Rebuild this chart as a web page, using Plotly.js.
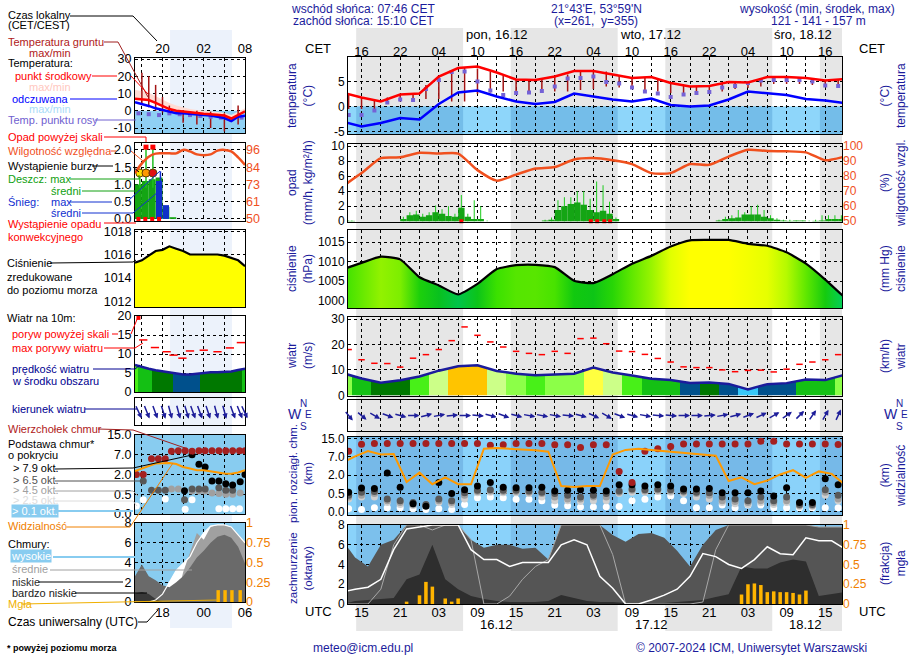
<!DOCTYPE html>
<html>
<head>
<meta charset="utf-8">
<script src="https://cdn.plot.ly/plotly-3.0.1.min.js"></script>
<style>
html,body{margin:0;padding:0;background:#fff;}
#chart{width:910px;height:660px;}
</style>
</head>
<body>
<div id="chart"></div>
<script>
// ====================== DATA (hours counted from 15.12 00 UTC) ======================
const hours3 = [12,15,18,21,24,27,30,33,36,39,42,45,48,51,54,57,60,63,66,69,72,75,78,81,84,87,90];
const hoursOdd = [13,15,17,19,21,23,25,27,29,31,33,35,37,39,41,43,45,47,49,51,53,55,57,59,61,63,65,67,69,71,73,75,77,79,81,83,85,87,89];
const hoursEven = [12,14,16,18,20,22,24,26,28,30,32,34,36,38,40,42,44,46,48,50,52,54,56,58,60,62,64,66,68,70,72,74,76,78,80,82,84,86,88,90];
const hours1 = [12,13,14,15,16,17,18,19,20,21,22,23,24,25,26,27,28,29,30,31,32,33,34,35,36,37,38,39,40,41,42,43,44,45,46,47,48,49,50,51,52,53,54,55,56,57,58,59,60,61,62,63,64,65,66,67,68,69,70,71,72,73,74,75,76,77,78,79,80,81,82,83,84,85,86,87,88,89];

// nights (sunset 15:10 CET, sunrise 07:46 CET)
const nights = [[14.17,30.77],[38.17,54.77],[62.17,78.77],[86.17,89.6]];
const gridHours = [15,18,21,24,27,30,33,36,39,42,45,48,51,54,57,60,63,66,69,72,75,78,81,84,87];
const cetLabels = ['16','','22','','04','','10','','16','','22','','04','','10','','16','','22','','04','','10','','16'];
const utcLabels = ['15','','21','','03','','09','','15','','21','','03','','09','','15','','21','','03','','09','','15'];
const dayLabelsTop = ['pon, 16.12','wto, 17.12','śro, 18.12'];
const dayLabelHours = [30.9,54.8,78.8];
const dateLabels = ['16.12','17.12','18.12'];
const dateNoons = [36,60,84];

// temperature (°C)
const tempMid  = [2.8,1.8,1.0,2.4,2.6,6.0,7.7,8.0,6.8,5.4,5.3,6.0,7.1,7.1,6.4,5.7,5.9,4.7,4.0,4.1,4.9,4.8,5.9,5.9,5.7,5.2,5.5];
const tempFelt = [-3.0,-4.0,-3.3,-2.3,-2.6,0.5,2.8,3.2,2.0,1.0,0.5,0.9,2.6,2.0,1.4,1.0,1.6,0.3,0.0,0.2,1.4,3.0,2.6,2.3,1.5,1.2,0.7];
const dewPoint = [-1.7,-1.7,-0.8,0.8,1.4,1.3,3.5,5.3,6.9,7.0, 5.0,3.2,2.3,2.7,2.8,3.1,4.0,5.6,5.7,6.0, 4.9,4.6,3.8,3.0,2.6,1.9,2.4,2.7,2.9,3.8, 4.1,4.7,5.2,5.3,5.3,5.3,5.0,4.2,4.1];
const groundMax = [2.5,1.8,1.2,1.8,2.3,2.5,4.3,6.0,7.3,7.8, 7.6,7.0,6.2,5.5,5.3,5.3,5.9,6.4,7.2,7.2, 7.0,6.2,5.8,5.8,5.5,4.7,4.2,4.0,4.1,4.5, 4.9,4.8,5.5,5.9,5.9,5.8,5.5,5.2,5.4];
const groundMin = [-0.5,-0.5,-1.0,0.5,1.0,1.3,1.5,1.5,1.0,1.0, 2.5,2.8,3.0,2.5,2.5,2.7,3.0,3.0,3.3,3.5, 4.0,3.8,3.5,3.3,3.0,2.7,2.5,2.5,2.6,3.0, 3.5,3.7,4.0,4.5,4.5,4.5,4.3,4.0,4.0];

// precipitation (mm/h) hourly, relative humidity (%)
const rainMean = [0.1,0.05,0,0,0,0,0,0,0,0.3, 0.8,0.9,0.6,0.8,1.2,1.0,0.7,0.6,1.8,0.6, 0.3,0.3,0,0,0,0,0,0,0,0, 0,0.1,0.2,1.5,2.0,2.3,2.5,2.2,1.5,1.2, 1.4,1.0,0.3,0,0,0,0,0,0,0, 0,0,0,0,0,0,0,0,0.1,0.3, 0.4,0.5,0.9,0.9,0.9,0.6,0.4,0.2,0.1,0.05, 0.1,0.1,0,0.05,0.1,0.3,0.3,0.3];
const rainMax  = [0.2,0.1,0,0,0,0,0,0,0,0.6, 1.2,1.4,1.0,1.2,2.1,1.6,2.0,1.0,3.5,1.0, 2.8,2.0,0.1,0,0,0,0,0,0,0, 0,0.2,0.5,2.8,3.2,3.2,4.0,4.0,3.0,5.3, 4.8,2.6,0.5,0,0,0,0,0,0,0, 0,0,0,0,0,0,0,0,0.2,0.6, 0.8,1.5,1.2,2.0,2.2,1.5,0.8,0.4,0.2,0.2, 0.1,0.1,0.1,0.2,0.8,0.8,0.8,0.8];
const convHours = [30.5,50.6,51.6,52.7,53.6];
const humidity = [73,82,92,92.5,95.5,95,95,84,77,81,85,86,91,92,90.5,88,82,82,88,87.5,93,97.5,96.7,96.5,95.8,90.5,93];

// pressure (hPa)
const pressure = [1008.0,1009.7,1011.3,1010.6,1006.0,1003.9,1001.6,1004.3,1008.1,1009.1,1009.2,1008.6,1005.1,1004.5,1006.8,1009.5,1011.5,1013.9,1015.5,1015.6,1015.6,1014.6,1014.1,1012.4,1009.5,1005.4,1000.8];
const mmHgTicks = [750,754,758,761];

// wind (m/s)
const windSpeed = [8.8,6.6,5.0,5.9,7.4,9.7,11.4,11.8,9.6,8.5,7.9,8.2,8.5,10.9,9.0,7.8,6.5,6.0,4.9,5.0,4.5,2.3,4.4,4.8,6.2,6.0,8.1];
const gust = [18.0,14.0,12.6,12.5,11.1,14.6,16.0,18.0,21.5,26.9, 23.6,21.0,19.0,17.3,16.5,16.0,17.3,16.5,22.3,22.5, 20.3,17.4,17.2,16.1,14.5,13.1,11.2,10.9,10.9,10.0, 9.3,9.8,9.9,9.2,10.3,12.2,13.1,14.0,16.0];
const windDir = [320,310,300,290,285,270,255,260,265,270, 275,285,290,285,280,280,280,275,285,295, 300,290,285,280,275,275,270,270,265,260, 255,250,245,240,235,225,215,210,205];

// clouds: base / top (km), visibility (km)
const cloudTop  = [9.4,12.5,12.8,12.8,12.8,12.8,12.8,12.8,12.8,12.8, 12.8,12.0,12.3,12.8,12.8,12.8,12.3,12.3,11.0,12.3, 12.3,3.0,1.4,9.4,10.5,11.5,12.6,12.6,12.6,12.6, 12.6,12.6,13.8,13.8,12.6,12.6,12.6,12.6,12.4];
const baseBlack = [0.6,0.95,0.9,2.6,1.0,0.22,0.15,1.4,0.5,0.8, 1.1,1.4,1.0,0.97,0.97,1.0,0.7,0.75,0.8,0.75, 0.7,1.2,1.2,1.1,1.2,1.1,0.85,0.85,0.9,0.56, 0.56,0.56,0.7,0.43,0.97,0.25,0.25,1.7,1.2];
const baseDark  = [0.45,0.6,0.65,0.35,0.3,0.25,0.2,0.35,0.3,0.55, 0.75,0.8,0.75,0.75,0.7,0.6,0.5,0.45,0.4,0.45, 0.5,0.7,0.85,0.8,0.85,0.8,0.7,0.6,0.55,0.4, 0.35,0.3,0.4,0.3,0.4,0.2,0.2,0.8,0.45];
const baseGray  = [0.4,0.45,0.5,0.3,0.25,0.2,0.18,0.3,0.25,0.45, 0.65,0.7,0.65,0.65,0.6,0.5,0.4,0.35,0.35,0.4, 0.4,0.6,0.75,0.7,0.75,0.7,0.6,0.5,0.45,0.3, 0.28,0.25,0.3,0.25,0.3,0.17,0.17,0.6,0.35];
const baseLight = [0.35,0.4,0.4,0.25,0.2,0.17,0.15,0.25,0.2,0.35, 0.55,0.6,0.55,0.55,0.5,0.4,0.3,0.3,0.28,0.3, 0.3,0.5,0.6,0.6,0.65,0.6,0.5,0.4,0.35,0.25, 0.22,0.2,0.25,0.2,0.25,0.14,0.14,0.45,0.3];
const baseWhite = [0.08,0.06,0.11,0.11,0.11,0.08,0.06,0.08,0.06,0.2, 0.38,0.4,0.38,0.34,0.34,0.3,0.18,0.16,0.13,0.13, 0.13,0.14,0.3,0.34,0.4,0.43,0.3,0.11,0.11,0.18, 0.11,0.18,0.18,0.11,0.11,0.11,0.11,0.11,0.11];
const visibility = [15,22,45,30,32,3.5,7,3.0,4.5,3.0, 3.0,55,58,55,52,48,42,2.6,2.4,2.6, 2.6,30,50,55,50,45,40,36,33,25, 3.7,4.5,3.0,3.8,5.5,9,4.4,8,6,3.0];
const baseTickText = ['0.0','0.5','2.0','7.0','15.0'];
const visTickText = ['0','1','5','20','100'];

// cloud cover (octants), fog (fraction)
const cloudLow     = [6.5,4.7,3.8,6.0,6.5,8,8,8,8,8, 6.5,5.7,6.0,6.0,5.6,5.7,4.5,8,8,8, 8,7.0,6.3,7.1,7.2,6.7,5.4,3.8,6.0,7.5, 8,8,8,8,8,8,8,7.8,7.8,7.8];
const cloudVeryLow = [0,0.3,0.4,0.5,0.6,2.5,3.0,6.0,2.5,1.5, 0.8,0.5,0.3,0.2,0.2,0.2,0.3,0.9,0.6,0.3, 0.2,0.2,0.1,0.1,0.1,0.1,0.2,0.3,0.4,0.7, 1.0,3.8,3.6,3.6,4.2,4.5,4.3,0.8,1.0,1.2];
const cloudMid     = [0,0,0,1.5,6.0,8,8,7.5,8,8, 6.5,0,0,0.8,2.5,3.8,4.5,8,8,8, 8,5.0,0,0,0,0,0,0,0.2,5.5, 8,8,8,8,8,8,8,7.8,7.8,7.8];
const cloudHigh    = [1.2,1.5,1.7,2.5,5.5,7.6,7.8,8,8,8, 5.5,4.5,4.5,3.8,4.2,4.2,4.2,6.0,6.5,6.0, 2.8,1.6,0,0,0.4,0.9,1.5,2.8,5.1,4.8, 4.0,3.6,4.5,5.8,5.1,5.0,6.7,6.4,6.4,5.6];
const fogHours = [22,24,25,26,28,29,30,74,75,76,77,78,79,80,81,82,83,84];
const fogFrac  = [0.03,0.11,0.28,0.22,0.07,0.03,0.07,0.12,0.25,0.26,0.24,0.15,0.16,0.15,0.15,0.14,0.12,0.17];

// ---------- legend (mini) sample, hours 14..30 UTC ----------
const miniHours = [14,15,16,17,18,19,20,21,22,23,24,25,26,27,28,29,30];
const miniTemp = [7.0,6.8,6.2,4.6,3.0,1.0,0.0,-0.5,-1.0,-1.4,-1.7,-2.0,-2.2,-2.8,-4.5,-2.5,-0.4];
const miniTempMax = [12,11.5,10.5,8.5,6.5,4.5,3.0,2.0,1.0,0.5,0,-0.5,-0.8,-1.2,-2.5,-0.5,1.5];
const miniFelt = [5.0,4.0,2.8,1.4,0.5,-0.8,-1.4,-1.4,-1.6,-2.0,-2.4,-2.8,-3.3,-4.2,-6.0,-3.5,-2.9];
const miniDewH = [14.5,16,17.5,19,20.5,22,23.5,25,26.5,28,29.5];
const miniDew  = [-1.5,-2,-2.5,-1.5,-2,-2.5,-3,-3.5,-4,-5,-4];
const miniGroundH = [15,16,17,18,19,21,23,25,27,29];
const miniGMax = [22,20,15,8,3,0.5,0,-0.5,-1.5,3];
const miniGMin = [4,2,0,-1,-2,-7,-8,-10,-12,-8];
const miniHum = [80.6,87,91.5,93.5,93.7,93.7,93.7,96,95,93,92.5,93,95.5,96,95,91,86];
const miniRainH = [14.5,15.5,16.5,17.5,18.5,19.5];
const miniRain  = [1.0,1.1,1.15,1.2,0.35,0.05];
const miniSnowH = [17.5,18.5];
const miniSnow  = [1.1,0.4];
const miniRainMaxH = [14.7,15.6,16.6];
const miniRainMax  = [1.33,2.08,2.08];
const miniSnowMaxH = [17.7];
const miniSnowMax  = [1.38];
const miniStormColors = ['#ffe000','#ff9900','#e01010'];
const miniPres = [1015.3,1015.5,1015.9,1016.3,1016.4,1016.7,1016.5,1016.3,1016.0,1016.0,1016.0,1016.0,1016.0,1015.9,1015.7,1015.5,1015.0];
const miniWind = [7.1,6.5,6.1,5.7,5.4,5.1,4.8,4.6,4.6,4.8,5.1,5.2,5.2,5.3,5.4,5.8,6.1];
const miniGustH = [15.2,16.9,18.6,19.6,20.9,22,24,26,27.8,29.4];
const miniGust  = [13.7,11.7,10.6,9.7,8.9,10.8,11.0,10.6,11.6,13.0];
const miniDirH = [14.5,15.7,16.9,18.1,19.1,20.3,21.5,22.4,23.4,24.6,25.8,27,28.2,29.2,29.9];
const miniDir  = [335,338,340,342,345,345,343,340,340,342,345,345,340,338,335];
const miniTopH = [14.2,15.2,16.4,17.4,18.4,19.3,20.3,21.3,22.3,23.3,24.2,25.2,26.2,27.2,28.2,29.2,30];
const miniTop  = [2.0,2.0,6.0,6.0,6.0,8.4,8.6,8.6,8.4,8.6,8.6,8.6,8.6,8.6,8.6,8.6,8.6];
const miniBlackH = [21.2,22.3,23.3,24.2,25.2,26.2,27.2,28.2,29.3,30];
const miniBlack  = [0.77,7.0,4.6,3.9,1.5,1.5,1.3,1.2,1.45,2.0];
const miniDarkH = [15.2,16.4,17.4,18.4,21.2,22.3,23.3,24.2,26.2,27.2,28.2];
const miniDark  = [1.5,0.8,0.8,0.8,0.36,0.9,0.9,0.9,1.0,0.8,0.8];
const miniGrayH = [19.3,20.3,22.3,23.3,24.2,25.2,26.2,27.2,28.2,29.3];
const miniGray  = [0.9,0.9,0.75,0.75,0.75,0.6,0.55,0.5,0.5,0.6];
const miniWhiteH = [14.2,15.2,18.4,21.3,22.3,26.2,27.2,28.2,29.2];
const miniWhite  = [0.2,0.36,0.38,0.12,0.36,0.13,0.13,0.13,0.13];
const miniVis = [7.7,9.5,11.5,13.3,13.5,13.7,13.0,10.7,9.5,8.3,8.3,7.5,6.2,5.8,5.5,6.5,8.3];
const miniHigh = [0,0,0,0.2,0.8,2.0,3.2,3.9,4.6,6.0,7.0,7.7,7.8,7.8,7.6,6.8,6.0];
const miniMid  = [0,0,0,0,0,0,0,3.0,5.0,7.0,6.3,7.6,7.8,7.8,7.6,6.8,6.1];
const miniLow  = [2.6,3.8,2.6,2.2,1.7,1.5,2.0,2.6,3.5,4.5,5.2,6.0,6.6,6.8,6.5,5.6,3.9];
const miniVLow = [0.85,1.0,0.8,0.3,0,0,0,0,0,0,0,0,0,0,0,0,0];
const miniFogH = [26.1,27.1,28.1,29.3];
const miniFog  = [0.15,0.15,0.15,0.15];
const miniNight = [19.1,28.1];

// ====================== HELPERS ======================
const W = 910, H = 660;
const fx = p => p / W;
const fy = p => 1 - p / H;
const dom = (t, b) => [1 - b / H, 1 - t / H];
const FONT = '"Liberation Sans", Arial, sans-serif';
const NAVY = '#1b1b9c';
const LF = 11; // legend font size
const KM_STOPS = [0, 0.5, 2, 7, 15];
const VIS_STOPS = [0, 1, 5, 20, 100];
function idxScale(v, stops) {
  if (v <= stops[0]) return 0;
  for (let i = 1; i < stops.length; i++) {
    if (v <= stops[i]) return (i - 1) + (v - stops[i - 1]) / (stops[i] - stops[i - 1]);
  }
  return stops.length - 1;
}
const tKm = v => idxScale(v, KM_STOPS);
const tVis = v => idxScale(v, VIS_STOPS);

function hexToRgb(h) { return [parseInt(h.slice(1,3),16), parseInt(h.slice(3,5),16), parseInt(h.slice(5,7),16)]; }
function mix(a, b, t) { const A = hexToRgb(a), B = hexToRgb(b); return 'rgb(' + A.map((v,i) => Math.round(v + (B[i]-v)*t)).join(',') + ')'; }
const presStops = [[1000,'#00d878'],[1002.5,'#00b830'],[1005,'#10c810'],[1008,'#38e000'],[1011,'#88f000'],[1013,'#c8ff00'],[1014.6,'#f4ff00'],[1015.3,'#ffff00']];
function presColor(p) {
  if (p <= presStops[0][0]) return presStops[0][1];
  for (let i = 1; i < presStops.length; i++) {
    if (p <= presStops[i][0]) { const t = (p - presStops[i-1][0]) / (presStops[i][0] - presStops[i-1][0]); return mix(presStops[i-1][1], presStops[i][1], t); }
  }
  return presStops[presStops.length - 1][1];
}
const windBins = [3,4,5,6,7,8,9,10,11,12];
const windColors = ['#38c8f8','#1478f0','#00508c','#007800','#14c014','#48f018','#8cff48','#ccff88','#ffff40','#ffc400','#ff8c00'];
function windColor(v) { let i = 0; while (i < windBins.length && v >= windBins[i]) i++; return windColors[i]; }
function smoothScale(xs, cols) {
  const x0 = xs[0], x1 = xs[xs.length-1];
  return xs.map((x,i) => [(x - x0)/(x1 - x0), cols[i]]);
}
function stepScale(xs, cols) {
  const x0 = xs[0], x1 = xs[xs.length-1], cs = [];
  for (let i = 0; i < xs.length; i++) {
    const a = i === 0 ? x0 : (xs[i-1] + xs[i]) / 2;
    const b = i === xs.length - 1 ? x1 : (xs[i] + xs[i+1]) / 2;
    cs.push([(a - x0)/(x1 - x0), cols[i]]);
    cs.push([(b - x0)/(x1 - x0), cols[i]]);
  }
  return cs;
}
function segs(xs, lo, hi) { const X = [], Y = []; xs.forEach((h,i) => { X.push(h, h, null); Y.push(lo[i], hi[i], null); }); return {X, Y}; }
function dashes(xs, ys, half) { const X = [], Y = []; xs.forEach((h,i) => { X.push(h - half, h + half, null); Y.push(ys[i], ys[i], null); }); return {X, Y}; }

const MX = [fx(348), fx(842)], MR = [12.9, 89.6];
const SX = [fx(135), fx(245)], SR = [14, 30];
const miniGrid = [15,18,21,24,27,30];
const TF = (c, s) => ({size: s || 12, color: c || '#000', family: FONT});

function xCfg(domain, range, anchor, tickvals, extra) {
  return Object.assign({domain, range, anchor, tickmode:'array', tickvals, ticktext: tickvals.map(() => ''), showticklabels:false, ticks:'',
    showgrid:true, gridcolor:'#000', griddash:'dot', gridwidth:1, zeroline:false, showline:true, mirror:true,
    linecolor:'#000', linewidth:1, fixedrange:true}, extra || {});
}
function yCfg(domain, range, anchor, tickvals, ticktext, extra) {
  return Object.assign({domain, range, anchor, tickmode:'array', tickvals, ticktext: ticktext || tickvals.map(String), ticks:'',
    showgrid:true, gridcolor:'#000', griddash:'dot', gridwidth:1, zeroline:false, showline:true, mirror:true,
    linecolor:'#000', linewidth:1, tickfont:TF(), fixedrange:true}, extra || {});
}
function yRight(overlay, range, anchor, tickvals, ticktext, color) {
  return {overlaying: overlay, side:'right', anchor, range, tickmode:'array', tickvals, ticktext, ticks:'',
    showgrid:false, zeroline:false, showline:false, tickfont:TF(color), fixedrange:true};
}

// ====================== LAYOUT ======================
const layout = {
  width: W, height: H, margin:{l:0, r:0, t:0, b:0}, paper_bgcolor:'#ffffff', plot_bgcolor:'rgba(0,0,0,0)',
  showlegend:false, barmode:'overlay', font:{family:FONT, size:12, color:'#000'}, shapes:[], annotations:[], hovermode:false
};
const tR = [-5.5, 9.9], pR = [-0.1, 10.27], prR = [998.1, 1018.15], wR = [-0.26, 30.8], bR = [-0.18, 4.08], cR = [0, 8];
layout.xaxis  = xCfg(MX, MR, 'y',  gridHours, {side:'top', showticklabels:true, ticktext: cetLabels, ticks:'inside', ticklen:3, tickcolor:'#000', tickfont:{size:13, family:FONT, color:'#000'}, ticklabelstandoff:-5});
layout.yaxis  = yCfg(dom(57,134), tR, 'x', [-5,0,5]);
layout.yaxis2 = yRight('y', tR, 'x', [-5,0,5], ['-5','0','5']);
layout.xaxis2 = xCfg(MX, MR, 'y3', gridHours);
layout.yaxis3 = yCfg(dom(144,222), pR, 'x2', [0,2,4,6,8,10]);
layout.yaxis4 = yRight('y3', [50 + pR[0]*5, 50 + pR[1]*5], 'x2', [50,60,70,80,90,100], ['50','60','70','80','90','100'], '#f0501e');
layout.xaxis3 = xCfg(MX, MR, 'y5', gridHours);
layout.yaxis5 = yCfg(dom(230,308), prR, 'x3', [1000,1005,1010,1015]);
layout.yaxis6 = yRight('y5', prR, 'x3', mmHgTicks.map(v => v * 1.33322), mmHgTicks.map(String));
layout.xaxis4 = xCfg(MX, MR, 'y7', gridHours);
layout.yaxis7 = yCfg(dom(317,396), wR, 'x4', [0,10,20,30]);
layout.yaxis8 = yRight('y7', [wR[0]*3.6, wR[1]*3.6], 'x4', [0,36,72,108], ['0','36','72','108']);
layout.xaxis5 = xCfg(MX, MR, 'y9', gridHours);
layout.yaxis9 = yCfg(dom(400,431), [0,1], 'x5', [], [], {showgrid:false, showticklabels:false});
layout.xaxis6 = xCfg(MX, MR, 'y10', gridHours);
layout.yaxis10 = yCfg(dom(437,515), bR, 'x6', [0,1,2,3,4], baseTickText);
layout.yaxis11 = yRight('y10', bR, 'x6', [0,1,2,3,4], visTickText, '#f08000');
layout.xaxis7 = xCfg(MX, MR, 'y12', gridHours, {side:'bottom', showticklabels:true, ticktext: utcLabels, tickfont:{size:13, family:FONT, color:'#000'}, ticklabelstandoff:-4});
layout.yaxis12 = yCfg(dom(525,604), cR, 'x7', [0,2,4,6,8]);
layout.yaxis13 = yRight('y12', [0,1], 'x7', [0,0.25,0.5,0.75,1], ['0','0.25','0.5','0.75','1'], '#f08000');
const mtR = [-12.9, 30.6], mpR = [-0.06, 2.2], mprR = [1011.5, 1018.1], mwR = [0, 20], mbR = [0, 4], mcR = [0, 8];
const mtf = {tickfont:TF('#000', 12.5)};
layout.xaxis8  = xCfg(SX, SR, 'y14', miniGrid, {side:'top', showticklabels:true, ticktext:['','20','','02','','08'], tickfont:{size:13, family:FONT, color:'#000'}, ticklabelstandoff:-1});
layout.yaxis14 = yCfg(dom(58,133), mtR, 'x8', [-10,0,10,20,30], null, mtf);
layout.yaxis15 = yRight('y14', mtR, 'x8', [-10,0,10,20,30], ['-10','0','10','20','30']);
layout.xaxis9  = xCfg(SX, SR, 'y16', miniGrid);
layout.yaxis16 = yCfg(dom(143,221), mpR, 'x9', [0,0.5,1,1.5,2], ['0.0','0.5','1.0','1.5','2.0'], mtf);
layout.yaxis17 = yRight('y16', [50 + mpR[0]*23, 50 + mpR[1]*23], 'x9', [50,61.5,73,84.5,96], ['50','61','73','84','96'], '#f0501e');
layout.xaxis10 = xCfg(SX, SR, 'y18', miniGrid);
layout.yaxis18 = yCfg(dom(230,307), mprR, 'x10', [1012,1014,1016,1018], null, mtf);
layout.yaxis19 = yRight('y18', mprR, 'x10', [1012,1014,1016,1018], ['1012','1014','1016','1018']);
layout.xaxis11 = xCfg(SX, SR, 'y20', miniGrid);
layout.yaxis20 = yCfg(dom(316,392), mwR, 'x11', [0,5,10,15,20], null, mtf);
layout.yaxis21 = yRight('y20', [0,72], 'x11', [0,18,36,54,72], ['0','18','36','54','72']);
layout.xaxis12 = xCfg(SX, SR, 'y22', miniGrid);
layout.yaxis22 = yCfg(dom(398,425), [0,1], 'x12', [], [], {showgrid:false, showticklabels:false});
layout.xaxis13 = xCfg(SX, SR, 'y23', miniGrid);
layout.yaxis23 = yCfg(dom(435,514), mbR, 'x13', [0,1,2,3,4], baseTickText, mtf);
layout.yaxis24 = yRight('y23', mbR, 'x13', [0,1,2,3,4], visTickText, '#f08000');
layout.xaxis14 = xCfg(SX, SR, 'y25', miniGrid, {side:'bottom', showticklabels:true, ticktext:['','18','','00','','06'], tickfont:{size:13, family:FONT, color:'#000'}, ticklabelstandoff:-2});
layout.yaxis25 = yCfg(dom(523,602), mcR, 'x14', [0,2,4,6,8], null, mtf);
layout.yaxis26 = yRight('y25', [0,1], 'x14', [0,0.25,0.5,0.75,1], ['0','0.25','0.5','0.75','1'], '#f08000');
['yaxis15','yaxis17','yaxis19','yaxis21','yaxis24','yaxis26'].forEach(k => layout[k].tickfont.size = 12.5);

// ====================== SHAPES ======================
const S = layout.shapes;
nights.forEach(n => S.push({type:'rect', xref:'x', yref:'paper', x0:n[0], x1:n[1], y0:fy(631), y1:fy(28), fillcolor:'#e6e6e6', line:{width:0}, layer:'below'}));
S.push({type:'rect', xref:'x8', yref:'paper', x0:miniNight[0], x1:miniNight[1], y0:fy(628), y1:fy(30), fillcolor:'#ecf2fb', line:{width:0}, layer:'below'});
function panelBg(xr, yr, x0, x1, y0, y1, dayCol, nightCol) {
  S.push({type:'rect', xref:xr, yref:yr, x0, x1, y0, y1, fillcolor:dayCol, line:{width:0}, layer:'below'});
  if (nightCol) nights.forEach(n => S.push({type:'rect', xref:xr, yref:yr, x0:n[0], x1:n[1], y0, y1, fillcolor:nightCol, line:{width:0}, layer:'below'}));
}
panelBg('x', 'y', MR[0], MR[1], tR[0], 0, '#8ed6fa', '#74bde9');
panelBg('x6', 'y10', MR[0], MR[1], bR[0], bR[1], '#8ad2fa', '#76b9e8');
panelBg('x7', 'y12', MR[0], MR[1], cR[0], cR[1], '#8ad2fa', '#7cc0ec');
panelBg('x8', 'y14', SR[0], SR[1], mtR[0], 0, '#8fd0f4', null);
panelBg('x13', 'y23', SR[0], SR[1], mbR[0], mbR[1], '#88ccf0', null);
panelBg('x14', 'y25', SR[0], SR[1], mcR[0], mcR[1], '#88ccf0', null);

function pl(pts, color, width) {
  S.push({type:'path', xref:'paper', yref:'paper', path: pts.map((p,i) => (i ? 'L' : 'M') + fx(p[0]) + ',' + fy(p[1])).join(' '), line:{color, width: width || 1}});
}
pl([[70,16],[133,16],[157,41]], '#000');
pl([[104,42],[118,42],[148,97]], '#a02020');
pl([[92,76],[117,76]], '#ff0000'); pl([[131,76],[148,94]], '#ff0000');
pl([[70,99],[117,99]], '#0000ff');
pl([[95,120],[136,120]], '#7060d0');
pl([[104,137],[146,137],[146,142]], '#ff0000');
pl([[111,151],[116,151]], '#f0501e'); pl([[131,151],[143,161]], '#f0501e');
pl([[92,166],[113,166]], '#000'); pl([[133,167],[139,172]], '#000');
pl([[70,179],[139,179],[139,175]], '#10a010');
pl([[82,191],[140,191]], '#10a010');
pl([[70,202],[112,202]], '#1030d0'); pl([[128,201],[160,171]], '#1030d0');
pl([[82,213],[133,213],[158,192]], '#1030d0');
pl([[104,223],[136,223]], '#ff0000');
pl([[50,263],[133,262],[136,260]], '#000');
pl([[112,334],[118,334]], '#ff0000'); pl([[131,334],[138,317]], '#ff0000');
pl([[104,348],[135,348],[143,343]], '#ff0000');
pl([[93,369],[135,369],[140,365]], '#000090');
pl([[85,409],[137,409]], '#000090');
pl([[98,429],[133,430],[185,448]], '#a02020');
pl([[55,469],[133,468],[192,455]], '#000');
pl([[55,481],[143,481]], '#505050');
pl([[55,491],[133,491],[138,496]], '#a0a0a0');
pl([[55,501],[133,501],[137,506]], '#dcdcdc');
pl([[55,511],[133,511]], '#88ccf0', 2);
pl([[65,527],[130,527],[173,463]], '#f08000');
pl([[53,557],[187,557]], '#88ccf0', 2);
pl([[50,570],[192,570]], '#a0a0a0');
pl([[38,582],[123,582]], '#000');
pl([[75,593],[147,593]], '#000');
pl([[22,604],[218,600]], '#f0b000');
pl([[138,622],[147,622],[158,610]], '#000');

// ====================== TRACES ======================
const T = [];
const base = {type:'scatter', hoverinfo:'skip', showlegend:false};
function add(o) { T.push(Object.assign({}, base, o)); }

// --- main temperature ---
const g = segs(hoursOdd, groundMin, groundMax);
add({mode:'lines', x:g.X, y:g.Y, xaxis:'x', yaxis:'y', line:{color:'#a31414', width:1.5}});
add({mode:'markers', x:hoursOdd, y:dewPoint, xaxis:'x', yaxis:'y', marker:{symbol:'square', size:4, color:'#7562d6'}});
add({mode:'lines', x:hours3, y:tempFelt, xaxis:'x', yaxis:'y', line:{color:'#0000ff', width:2.5}});
add({mode:'lines', x:hours3, y:tempMid, xaxis:'x', yaxis:'y', line:{color:'#ff0000', width:2.5}});

// --- main precipitation ---
T.push({type:'bar', x:hours1, y:rainMax, offset:0.42, width:0.16, xaxis:'x2', yaxis:'y3', marker:{color:'#24cc24', line:{width:0}}, hoverinfo:'skip'});
T.push({type:'bar', x:hours1, y:rainMean, offset:0, width:1, xaxis:'x2', yaxis:'y3', marker:{color:'#14a514', line:{width:0}}, hoverinfo:'skip'});
add({mode:'markers', x:convHours, y:convHours.map(() => 0), xaxis:'x2', yaxis:'y3', cliponaxis:false, marker:{symbol:'square', size:4, color:'#ff0000'}});
add({mode:'lines', x:hours3, y:humidity, xaxis:'x2', yaxis:'y4', line:{color:'#f0501e', width:2.5, shape:'spline', smoothing:0.6}});

// --- main pressure ---
add({mode:'lines', x:hours3, y:pressure, xaxis:'x3', yaxis:'y5', fill:'tozeroy', fillcolor:'#60e000',
     fillgradient:{type:'horizontal', start:hours3[0], stop:hours3[hours3.length-1], colorscale: smoothScale(hours3, pressure.map(presColor))},
     line:{color:'#000', width:2.2, shape:'spline', smoothing:0.5}});

// --- main wind ---
add({mode:'lines', x:hours3, y:windSpeed, xaxis:'x4', yaxis:'y7', fill:'tozeroy', fillcolor:'#30c030',
     fillgradient:{type:'horizontal', start:hours3[0], stop:hours3[hours3.length-1], colorscale: stepScale(hours3, windSpeed.map(windColor))},
     line:{color:'#1b1b9c', width:2.5}});
const gd = dashes(hoursOdd, gust, 0.5);
add({mode:'lines', x:gd.X, y:gd.Y, xaxis:'x4', yaxis:'y7', line:{color:'#ff0000', width:1.5}});

// --- main cloud base / visibility ---
const cbSets = [[baseWhite,'#ffffff'],[baseLight,'#d0d0d0'],[baseGray,'#a0a0a0'],[baseDark,'#585858'],[baseBlack,'#000000'],[cloudTop,'#a42020']];
cbSets.forEach(s => add({mode:'markers', x:hoursOdd, y:s[0].map(tKm), xaxis:'x6', yaxis:'y10', marker:{size:7, color:s[1]}}));
add({mode:'lines', x:hoursEven, y:visibility.map(tVis), xaxis:'x6', yaxis:'y10', line:{color:'#ff9900', width:2}});

// --- main cloud cover ---
add({mode:'lines', x:hoursEven, y:cloudMid, xaxis:'x7', yaxis:'y12', fill:'tozeroy', fillcolor:'#8c8c8c', line:{width:0, color:'#8c8c8c'}});
add({mode:'lines', x:hoursEven, y:cloudLow, xaxis:'x7', yaxis:'y12', fill:'tozeroy', fillcolor:'#555555', line:{width:0, color:'#555555'}});
add({mode:'lines', x:hoursEven, y:cloudVeryLow, xaxis:'x7', yaxis:'y12', fill:'tozeroy', fillcolor:'#2e2e2e', line:{width:0, color:'#2e2e2e'}});
add({mode:'lines', x:hoursEven, y:cloudMid, xaxis:'x7', yaxis:'y12', line:{color:'#a8a8a8', width:1}});
add({mode:'lines', x:hoursEven, y:cloudHigh, xaxis:'x7', yaxis:'y12', line:{color:'#ffffff', width:1.5}});
T.push({type:'bar', x:fogHours, y:fogFrac, width:0.55, xaxis:'x7', yaxis:'y13', marker:{color:'#ffb400', line:{width:0}}, hoverinfo:'skip'});

// --- mini temperature ---
add({mode:'lines', x:miniHours, y:miniTemp, xaxis:'x8', yaxis:'y14', line:{width:0, color:'#ffd8d0'}});
add({mode:'lines', x:miniHours, y:miniTempMax, xaxis:'x8', yaxis:'y14', fill:'tonexty', fillcolor:'#ffdcd4', line:{width:0, color:'#ffdcd4'}});
const mg = segs(miniGroundH, miniGMin, miniGMax);
add({mode:'lines', x:mg.X, y:mg.Y, xaxis:'x8', yaxis:'y14', line:{color:'#a31414', width:1.5}});
add({mode:'markers', x:miniDewH, y:miniDew, xaxis:'x8', yaxis:'y14', marker:{symbol:'square', size:4, color:'#7562d6'}});
add({mode:'lines', x:miniHours, y:miniFelt, xaxis:'x8', yaxis:'y14', line:{color:'#0000ff', width:2.5}});
add({mode:'lines', x:miniHours, y:miniTemp, xaxis:'x8', yaxis:'y14', line:{color:'#ff0000', width:2.5}});

// --- mini precipitation ---
T.push({type:'bar', x:miniRainH, y:miniRain, width:1, xaxis:'x9', yaxis:'y16', marker:{color:'#14a514', line:{width:0}}, hoverinfo:'skip'});
T.push({type:'bar', x:miniSnowH, y:miniSnow, width:0.9, xaxis:'x9', yaxis:'y16', marker:{color:'#1030c8', line:{width:0}}, hoverinfo:'skip'});
const mrm = segs(miniRainMaxH, miniRainMaxH.map(() => 0.9), miniRainMax);
add({mode:'lines', x:mrm.X, y:mrm.Y, xaxis:'x9', yaxis:'y16', line:{color:'#20c020', width:1.5}});
const msm = segs(miniSnowMaxH, miniSnowMaxH.map(() => 0.9), miniSnowMax);
add({mode:'lines', x:msm.X, y:msm.Y, xaxis:'x9', yaxis:'y16', line:{color:'#1030d0', width:1.5}});
add({mode:'markers', x:miniRainMaxH, y:miniRainMaxH.map(() => 1.33), xaxis:'x9', yaxis:'y16', marker:{size:8, color:miniStormColors, line:{color:'#604000', width:1}}});
add({mode:'markers', x:miniRainMaxH.slice(1), y:miniRainMax.slice(1), xaxis:'x9', yaxis:'y16', cliponaxis:false, marker:{symbol:'square', size:5, color:'#ff0000'}});
add({mode:'markers', x:miniRainH.slice(0,4), y:miniRainH.slice(0,4).map(() => 0), xaxis:'x9', yaxis:'y16', cliponaxis:false, marker:{symbol:'square', size:4, color:'#ff0000'}});
add({mode:'lines', x:miniHours, y:miniHum, xaxis:'x9', yaxis:'y17', line:{color:'#f0501e', width:2.5, shape:'spline'}});

// --- mini pressure ---
add({mode:'lines', x:miniHours, y:miniPres, xaxis:'x10', yaxis:'y18', fill:'tozeroy', fillcolor:'#ffff00', line:{color:'#000', width:2.2}});

// --- mini wind ---
add({mode:'lines', x:miniHours, y:miniWind, xaxis:'x11', yaxis:'y20', fill:'tozeroy', fillcolor:'#007800',
     fillgradient:{type:'horizontal', start:miniHours[0], stop:miniHours[miniHours.length-1], colorscale: stepScale(miniHours, miniWind.map(windColor))},
     line:{color:'#1b1b9c', width:2.5}});
const mgd = dashes(miniGustH, miniGust, 0.6);
add({mode:'lines', x:mgd.X, y:mgd.Y, xaxis:'x11', yaxis:'y20', line:{color:'#ff0000', width:1.5}});
add({mode:'markers', x:[14.5], y:[19.5], xaxis:'x11', yaxis:'y20', cliponaxis:false, marker:{symbol:'square', size:4, color:'#ff0000'}});

// --- mini cloud base ---
add({mode:'markers', x:miniWhiteH, y:miniWhite.map(tKm), xaxis:'x13', yaxis:'y23', marker:{size:7, color:'#ffffff'}});
add({mode:'markers', x:miniGrayH, y:miniGray.map(tKm), xaxis:'x13', yaxis:'y23', marker:{size:7, color:'#a0a0a0'}});
add({mode:'markers', x:miniDarkH, y:miniDark.map(tKm), xaxis:'x13', yaxis:'y23', marker:{size:7, color:'#585858'}});
add({mode:'markers', x:miniBlackH, y:miniBlack.map(tKm), xaxis:'x13', yaxis:'y23', marker:{size:7, color:'#000000'}});
add({mode:'markers', x:miniTopH, y:miniTop.map(tKm), xaxis:'x13', yaxis:'y23', marker:{size:7, color:'#a42020'}});
add({mode:'lines', x:miniHours, y:miniVis.map(tVis), xaxis:'x13', yaxis:'y23', line:{color:'#ff9900', width:2}});

// --- mini cloud cover ---
add({mode:'lines', x:miniHours, y:miniHigh, xaxis:'x14', yaxis:'y25', fill:'tozeroy', fillcolor:'#ffffff', line:{width:0, color:'#ffffff'}});
add({mode:'lines', x:miniHours, y:miniMid, xaxis:'x14', yaxis:'y25', fill:'tozeroy', fillcolor:'#a0a0a0', line:{width:0, color:'#a0a0a0'}});
add({mode:'lines', x:miniHours, y:miniLow, xaxis:'x14', yaxis:'y25', fill:'tozeroy', fillcolor:'#6a6a6a', line:{width:0, color:'#6a6a6a'}});
add({mode:'lines', x:miniHours, y:miniVLow, xaxis:'x14', yaxis:'y25', fill:'tozeroy', fillcolor:'#383838', line:{width:0, color:'#383838'}});
add({mode:'lines', x:miniHours, y:miniHigh, xaxis:'x14', yaxis:'y25', line:{color:'#ffffff', width:1.2}});
T.push({type:'bar', x:miniFogH, y:miniFog, width:0.5, xaxis:'x14', yaxis:'y26', marker:{color:'#ffb400', line:{width:0}}, hoverinfo:'skip'});

// ====================== ANNOTATIONS ======================
const A = layout.annotations;
function txt(text, x, y, o) {
  A.push(Object.assign({xref:'paper', yref:'paper', x:fx(x), y:fy(y), text, showarrow:false, xanchor:'left', yanchor:'middle',
    font:{family:FONT, size:LF, color:'#000'}}, o || {}));
}
function col(c, s) { return {font:{family:FONT, size: s || LF, color:c}}; }
// header
txt('wschód słońca: 07:46 CET', 363, 9, Object.assign({xanchor:'center'}, col(NAVY, 12)));
txt('zachód słońca: 15:10 CET', 363, 21, Object.assign({xanchor:'center'}, col(NAVY, 12)));
txt("21°43'E, 53°59'N", 596, 9, Object.assign({xanchor:'center'}, col(NAVY, 12)));
txt('(x=261,  y=355)', 596, 21, Object.assign({xanchor:'center'}, col(NAVY, 12)));
txt('wysokość (min, środek, max)', 897, 9, Object.assign({xanchor:'right'}, col(NAVY, 12)));
txt('121 - 141 - 157 m', 818, 21, Object.assign({xanchor:'center'}, col(NAVY, 12)));
dayLabelsTop.forEach((t,i) => A.push({xref:'x', yref:'paper', x:dayLabelHours[i], y:fy(35), text:t, showarrow:false, xanchor:'left', yanchor:'middle', font:{family:FONT, size:13, color:'#000'}}));
txt('CET', 318, 48, Object.assign({xanchor:'center'}, col('#000', 13)));
txt('CET', 872, 48, Object.assign({xanchor:'center'}, col('#000', 13)));
txt('UTC', 318, 611, Object.assign({xanchor:'center'}, col('#000', 13)));
txt('UTC', 872, 611, Object.assign({xanchor:'center'}, col('#000', 13)));
dateLabels.forEach((t,i) => A.push({xref:'x7', yref:'paper', x:dateNoons[i], y:fy(624), text:t, showarrow:false, xanchor:'center', yanchor:'middle', font:{family:FONT, size:13, color:'#000'}}));
txt('meteo@icm.edu.pl', 363, 648, Object.assign({xanchor:'center'}, col(NAVY, 12)));
txt('© 2007-2024 ICM, Uniwersytet Warszawski', 751, 648, Object.assign({xanchor:'center'}, col(NAVY, 12)));

// vertical axis titles
function vt(text, x, y, s) { A.push({xref:'paper', yref:'paper', x:fx(x), y:fy(y), text, textangle:-90, showarrow:false, xanchor:'center', yanchor:'middle', font:{family:FONT, size:s || 12, color:NAVY}}); }
vt('temperatura<br>(°C)', 300, 96);
vt('opad<br>(mm/h, kg/m²/h)', 300, 183);
vt('ciśnienie<br>(hPa)', 300, 269);
vt('wiatr<br>(m/s)', 300, 356);
vt('pion. rozciągł. chm.<br>(km)', 300, 474, 11.5);
vt('zachmurzenie<br>(oktanty)', 300, 568, 11.5);
vt('(°C)<br>temperatura', 893, 96);
vt('(%)<br>wilgotność wzgl.', 893, 183);
vt('(mm Hg)<br>ciśnienie', 893, 269);
vt('(km/h)<br>wiatr', 893, 356);
vt('(km)<br>widzialność', 893, 476);
vt('(frakcja)<br>mgła', 893, 564);
// compass labels
[286, 882].forEach(cx => {
  txt('W', cx, 414, col(NAVY, 14));
  txt('N', cx + 12, 403, col(NAVY, 10));
  txt('E', cx + 17, 414, col(NAVY, 10));
  txt('S', cx + 12, 426, col(NAVY, 10));
});

// legend texts (left column)
txt('Czas lokalny', 6, 15); txt('(CET/CEST)', 6, 25);
txt('Temperatura gruntu', 6, 42, col('#b02020')); txt('max/min', 27, 53, col('#b02020'));
txt('Temperatura:', 6, 63);
txt('punkt środkowy', 13, 76, col('#ff0000'));
txt('max/min', 27, 87, col('#ffc8c0'));
txt('odczuwana', 10, 99, col('#0000ff'));
txt('max/min', 27, 109, col('#a8dcf8'));
txt('Temp. punktu rosy', 6, 120, col('#7060d0'));
txt('Opad powyżej skali', 6, 137, col('#ff0000'));
txt('Wilgotność względna', 6, 151, col('#f0501e'));
txt('Wystąpienie burzy', 6, 166);
txt('Deszcz: max', 6, 179, col('#10a010'));
txt('średni', 49, 191, col('#10a010'));
txt('Śnieg:', 6, 202, col('#1030d0')); txt('max', 49, 202, col('#1030d0'));
txt('średni', 49, 213, col('#1030d0'));
txt('Wystąpienie opadu', 6, 224, col('#ff0000'));
txt('konwekcyjnego', 6, 237, col('#ff0000'));
txt('Ciśnienie', 5, 263); txt('zredukowane', 5, 277); txt('do poziomu morza', 5, 290);
txt('Wiatr na 10m:', 5, 318);
txt('poryw powyżej skali', 10, 334, col('#ff0000'));
txt('max porywy wiatru', 10, 348, col('#ff0000'));
txt('prędkość wiatru', 10, 369, col('#000090'));
txt('w środku obszaru', 10, 381, col('#000090'));
txt('kierunek wiatru', 10, 409, col('#000090'));
txt('Wierzchołek chmur', 6, 429, col('#b02020'));
txt('Podstawa chmur*', 6, 444); txt('o pokryciu', 6, 455);
txt('> 7.9 okt.', 11, 468);
txt('> 6.5 okt.', 11, 480, col('#505050'));
txt('> 4.5 okt.', 11, 490, col('#a0a0a0'));
txt('> 2.5 okt.', 11, 500, col('#dcdcdc'));
txt('> 0.1 okt.', 11, 511, Object.assign({bgcolor:'#88ccf0', borderpad:0}, col('#ffffff')));
txt('Widzialność', 6, 526, col('#f08000'));
txt('Chmury:', 6, 544);
txt('wysokie', 10, 556, Object.assign({bgcolor:'#88ccf0', borderpad:0}, col('#ffffff')));
txt('średnie', 10, 569, col('#a0a0a0'));
txt('niskie', 10, 582, col('#303030'));
txt('bardzo niskie', 10, 593, col('#202020'));
txt('Mgła', 6, 604, col('#f0b000'));
txt('Czas uniwersalny (UTC)', 6, 622, col('#000', 12));
txt('<b>* powyżej poziomu morza</b>', 5, 648, col('#000', 9));

// wind direction arrows (main + mini)
function arrows(xs, dirs, xr, yr, L, size) {
  xs.forEach((h,i) => {
    const to = (dirs[i] + 180) * Math.PI / 180;
    const dx = Math.sin(to) * L, dy = -Math.cos(to) * L;
    A.push({xref:xr, yref:yr, x:h, y:0.5, ax:-dx, ay:-dy, axref:'pixel', ayref:'pixel', xshift:dx/2, yshift:-dy/2,
      text:'', showarrow:true, arrowhead:2, arrowsize:size, arrowwidth:1.5, arrowcolor:'#1e1e9a'});
  });
}
arrows(hoursOdd, windDir, 'x5', 'y9', 13, 0.7);
arrows(miniDirH, miniDir, 'x12', 'y22', 15, 0.7);

Plotly.newPlot('chart', T, layout, {staticPlot:true, displayModeBar:false});
</script>
</body>
</html>
